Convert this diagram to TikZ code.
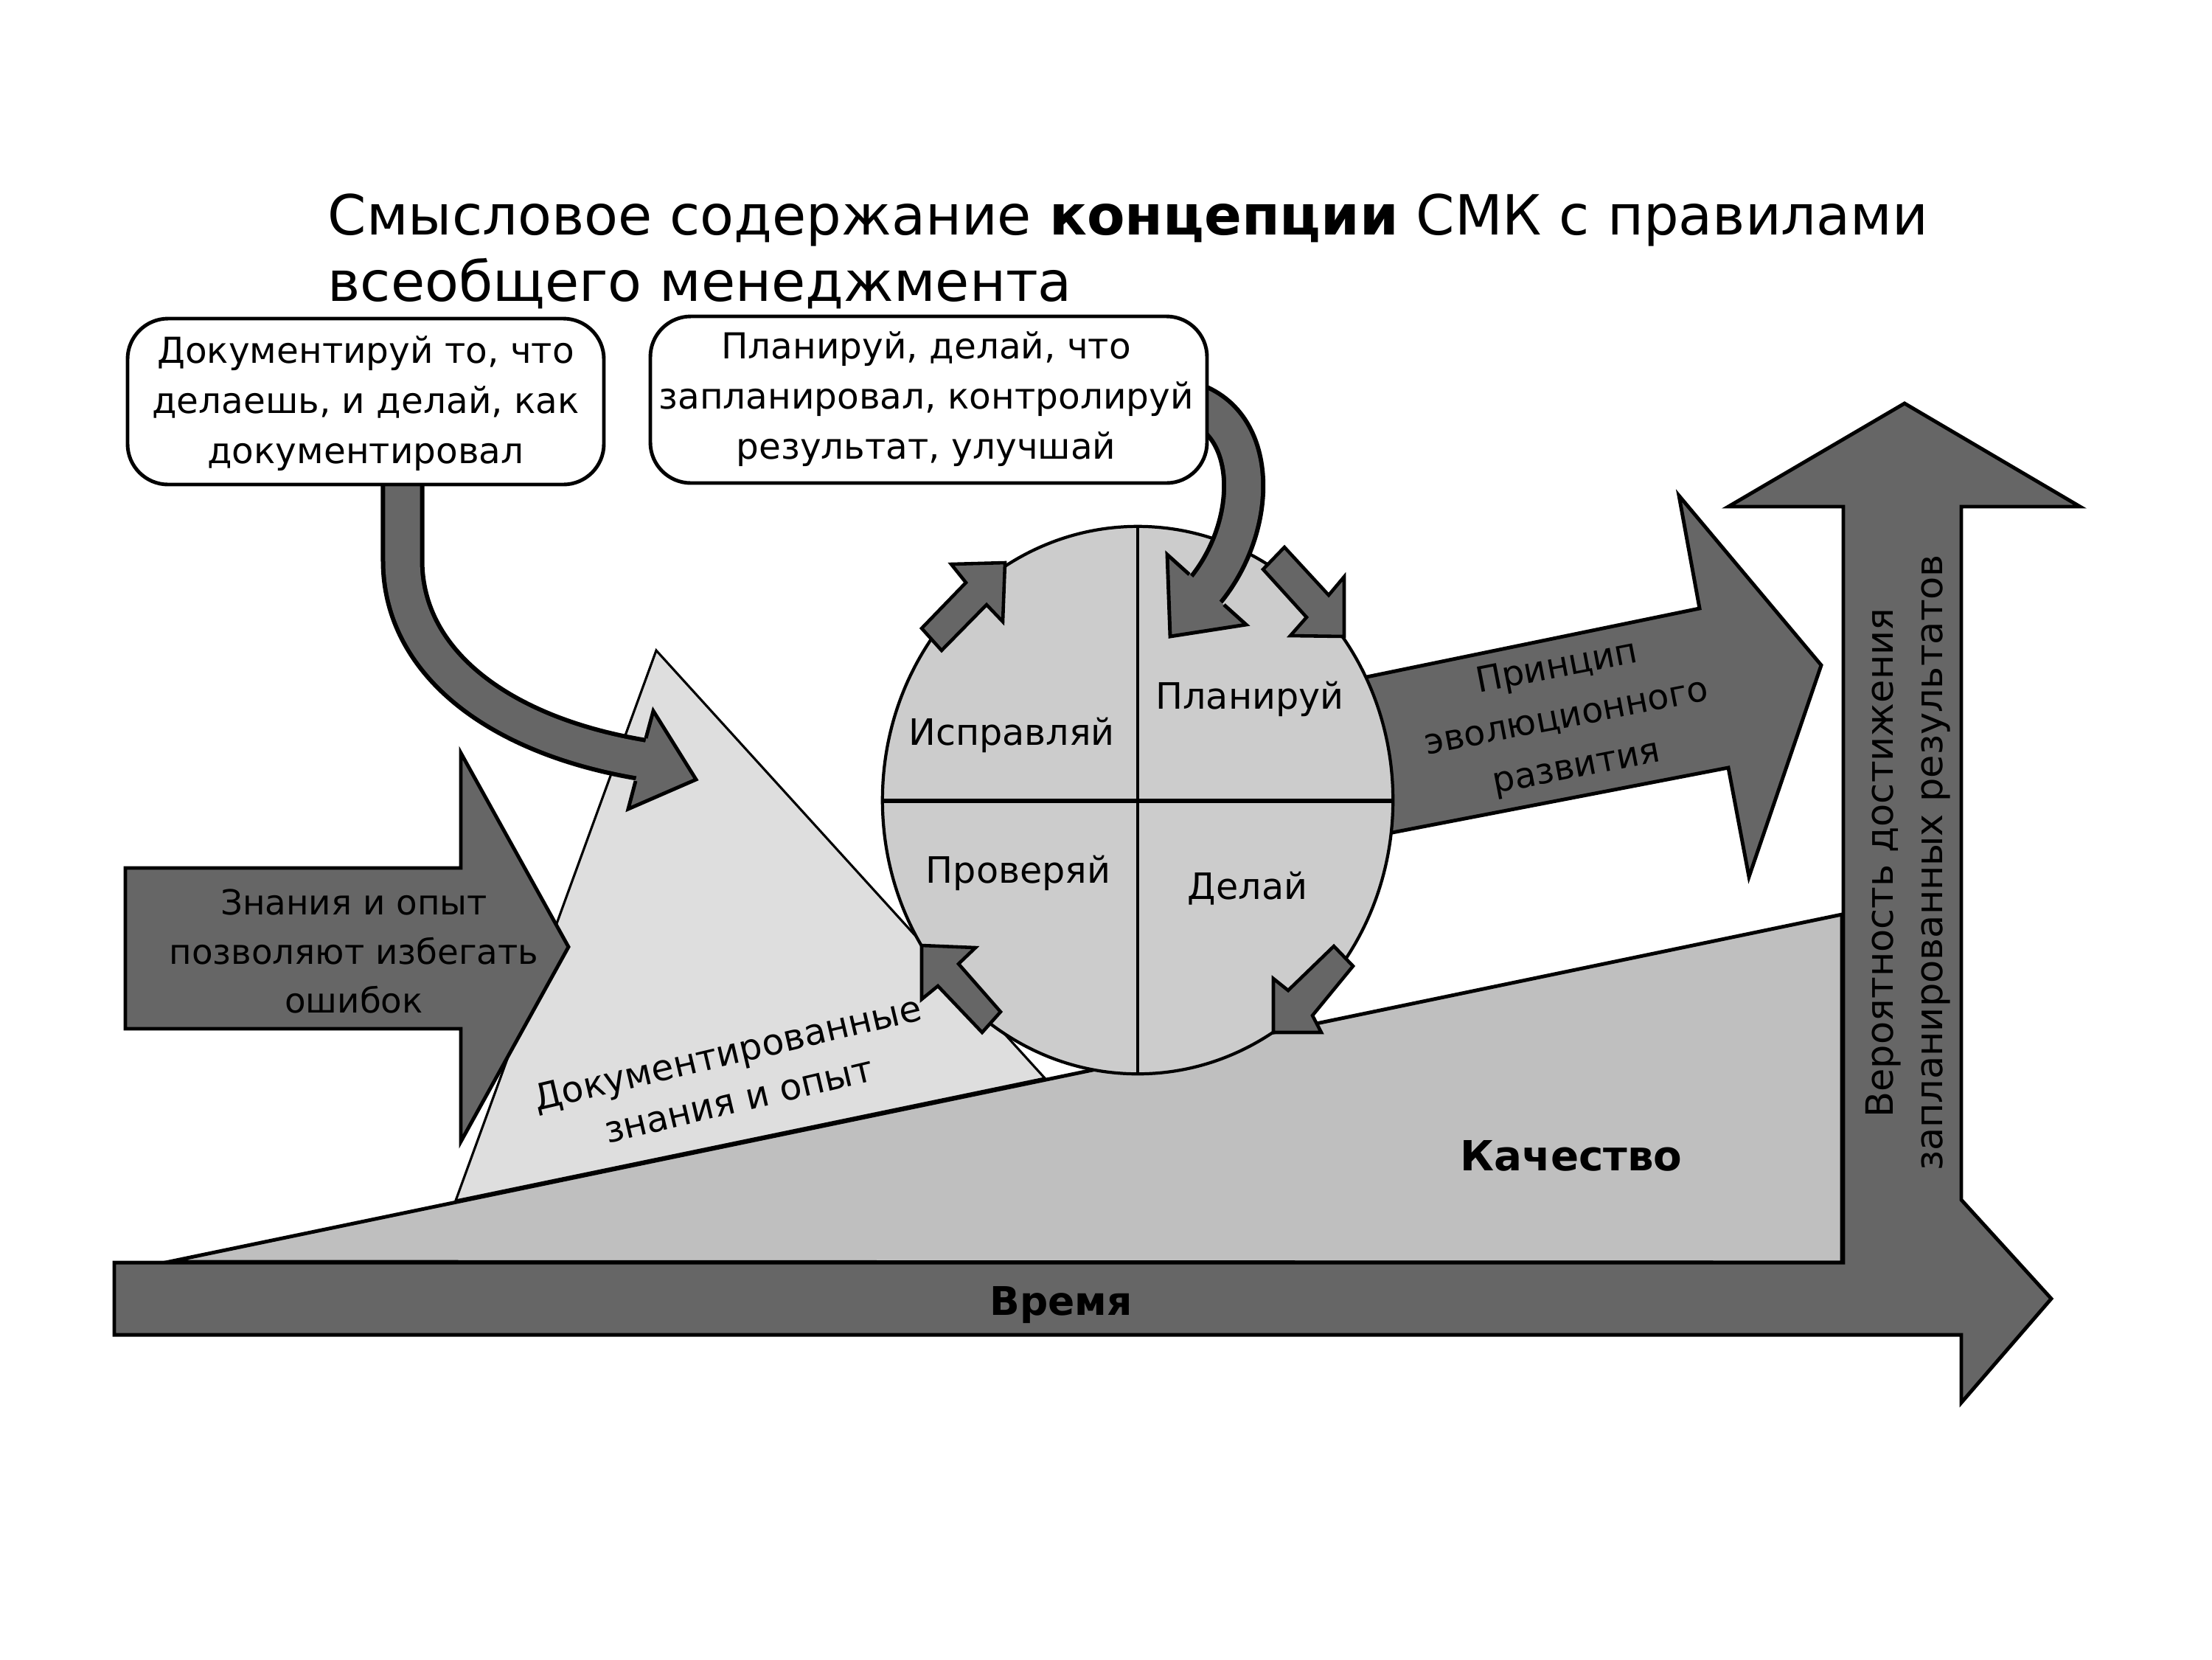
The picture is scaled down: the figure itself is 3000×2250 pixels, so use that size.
\documentclass[tikz,border=0pt]{standalone}
\usepackage{fontspec}
\setmainfont{DejaVu Sans}
\definecolor{arrowgray}{gray}{0.40}
\definecolor{circlegray}{gray}{0.80}
\definecolor{trigray}{gray}{0.87}
\definecolor{qualgray}{gray}{0.75}
\tikzset{
  darkshape/.style={fill=arrowgray, draw=black, line width=1.4pt, line join=miter},
  smallarrow/.style={fill=arrowgray, draw=black, line width=1.3pt, line join=miter},
  lbl/.style={align=center, inner sep=0pt, font=\fontsize{13.8}{19.3}\selectfont},
  notebox/.style={fill=white, draw=black, line width=1.4pt, rounded corners=0.55cm},
}
\begin{document}
\begin{tikzpicture}[x=0.01cm,y=-0.01cm]
\useasboundingbox[fill=white] (0,0) rectangle (3000,2250);

% title
\node[anchor=base west, inner sep=0pt, font=\fontsize{21.35}{26}\selectfont] (title1) at (444,318)
  {Смысловое содержание \textbf{концепции} СМК с правилами};
\node[anchor=base west, inner sep=0pt, font=\fontsize{21.35}{26}\selectfont] (title2) at (444,408)
  {всеобщего менеджмента};

% triangle
\draw[fill=trigray, line width=0.9pt, line join=miter] (890,882) -- (618,1628) -- (1417,1462) -- cycle;

% quality wedge
\draw[fill=qualgray, line width=1.4pt, line join=miter] (229,1711) -- (2498,1240) -- (2498,1712) -- cycle;

% left arrow
\draw[darkshape] (170,1177) -- (625,1177) -- (625,1021) -- (771,1284) -- (625,1548) -- (625,1395) -- (170,1395) -- cycle;

% principle arrow
\draw[darkshape] (1800,929) -- (2305,825) -- (2277,672) -- (2470,902) -- (2372,1189) -- (2344,1041) -- (1800,1146) -- cycle;

% PDCA circle
\draw[fill=circlegray, line width=1.2pt] (1543,1085) ellipse [x radius=3.46cm, y radius=3.71cm];
\draw[line width=1.2pt] (1543,714) -- (1543,1456);
\draw[line width=1.8pt] (1197,1086) -- (1889,1086);

% time + vertical arrow
\draw[darkshape] (155,1712) -- (2500,1712) -- (2500,687) -- (2344,687) -- (2583,547) -- (2821,687) -- (2660,687)
  -- (2660,1627) -- (2782,1761) -- (2660,1902) -- (2660,1810) -- (155,1810) -- cycle;

% curved arrow 1 (from box 1)
\draw[line width=0.59cm, black] (546,640) -- (546,760) .. controls (546,900) and (680,1000) .. (878,1031);
\draw[line width=0.47cm, arrowgray] (546,640) -- (546,760) .. controls (546,900) and (680,1000) .. (878,1031);
\fill[arrowgray] (886,964) -- (944,1057) -- (852,1097) -- cycle;
\draw[line width=1.4pt, line join=miter] (876,1001) -- (886,964) -- (944,1057) -- (852,1097) -- (862,1059);

% curved arrow 2 (from box 2)
\draw[line width=0.59cm, black] (1615,545) .. controls (1710,575) and (1706,719) .. (1630,806);
\draw[line width=0.47cm, arrowgray] (1615,545) .. controls (1710,575) and (1706,719) .. (1630,806);
\fill[arrowgray] (1583,752) -- (1587,863) -- (1690,847) -- cycle;
\draw[line width=1.4pt, line join=miter] (1613,779) -- (1583,752) -- (1587,863) -- (1690,847) -- (1660,820);

% boxes
\draw[notebox] (173,432) rectangle (819,657);
\draw[notebox] (882,429) rectangle (1637,655);

% small cycle arrows
\draw[smallarrow] (1250,852) -- (1310,790) -- (1290,765) -- (1363,763) -- (1360,843) -- (1338,820) -- (1277,882) -- cycle;
\draw[smallarrow] (1742,742) -- (1802,807) -- (1823,782) -- (1823,863) -- (1750,862) -- (1772,837) -- (1713,772) -- cycle;
\draw[smallarrow] (1809,1283) -- (1835,1310) -- (1780,1377) -- (1792,1400) -- (1727,1400) -- (1727,1327) -- (1747,1343) -- cycle;
\draw[smallarrow] (1250,1282) -- (1323,1285) -- (1300,1307) -- (1357,1372) -- (1332,1400) -- (1272,1337) -- (1250,1355) -- cycle;

% texts
\node[lbl] (box1txt) at (496,547) {Документируй то, что\\делаешь, и делай, как\\документировал};
\node[lbl] (box2txt) at (1256,541) {Планируй, делай, что\\запланировал, контролируй\\результат, улучшай};
\node[lbl, font=\fontsize{13.3}{18.8}\selectfont] (lefttxt) at (480,1290) {Знания и опыт\\позволяют избегать\\ошибок};
\node[lbl, font=\fontsize{13.9}{18.5}\selectfont, rotate=13.3] (tritxt) at (994,1459) {Документированные\\знания и опыт};
\node[lbl, font=\fontsize{14}{17}\selectfont] (act) at (1372,997) {Исправляй};
\node[lbl, font=\fontsize{14}{17}\selectfont] (plan) at (1695,948) {Планируй};
\node[lbl, font=\fontsize{14}{17}\selectfont] (check) at (1381,1184) {Проверяй};
\node[lbl, font=\fontsize{14}{17}\selectfont] (do) at (1692,1205) {Делай};
\node[lbl, font=\fontsize{13.5}{19.6}\selectfont, rotate=11] (evol) at (2125,974) {Принцип\\эволюционного\\развития};
\node[lbl, font=\fontsize{14.5}{19}\selectfont, rotate=90] (prob) at (2588,1170) {Вероятность достижения\\запланированных результатов};
\node[lbl, font=\bfseries\fontsize{16}{19}\selectfont] (quality) at (2131,1567) {Качество};
\node[lbl, font=\bfseries\fontsize{15.2}{19}\selectfont] (time) at (1439,1770) {Время};
\end{tikzpicture}
\end{document}
